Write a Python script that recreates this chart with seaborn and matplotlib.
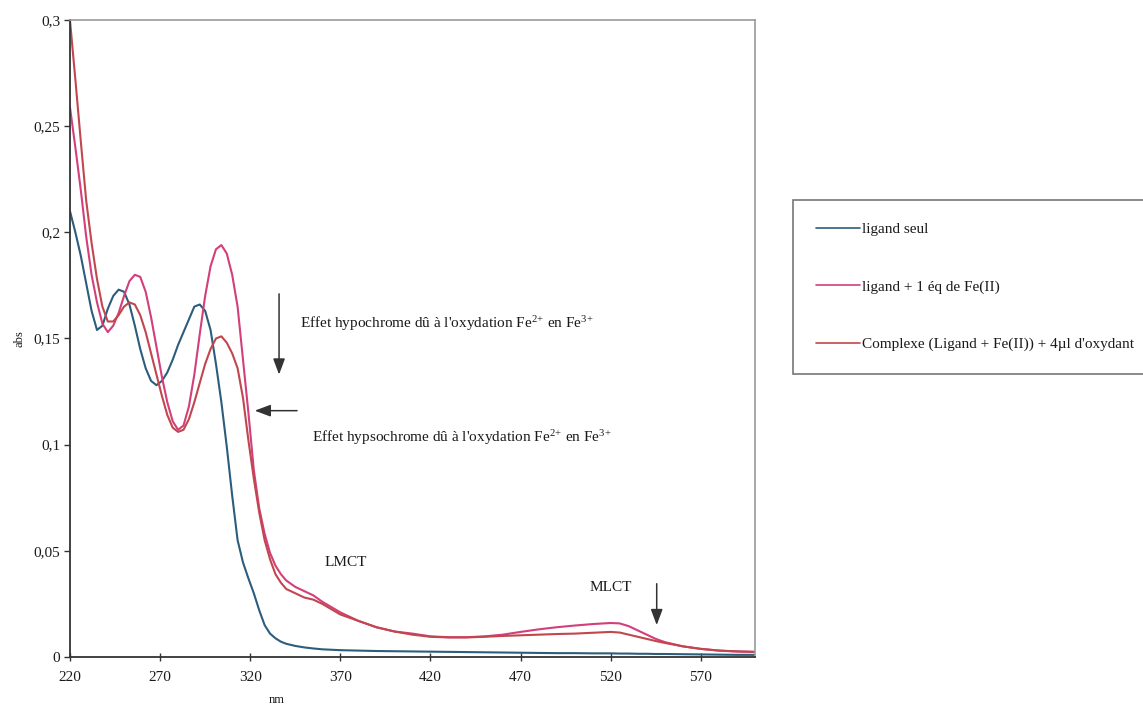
import numpy as np
import pandas as pd
import matplotlib
matplotlib.use("Agg")
import matplotlib.pyplot as plt
import seaborn as sns

# ---------------- data ----------------
wavelength = [220, 223, 226, 229, 232, 235, 238, 241, 244, 247, 250, 253, 256, 259,
              262, 265, 268, 271, 274, 277, 280, 283, 286, 289, 292, 295, 298, 301,
              304, 307, 310, 313, 316, 319, 322, 325, 328, 331, 334, 337, 340, 345,
              350, 355, 360, 370, 380, 390, 400, 410, 420, 430, 440, 450, 460, 470,
              480, 490, 500, 510, 520, 525, 530, 535, 540, 545, 550, 560, 570, 580,
              590, 600]

ligand_seul = [0.210, 0.200, 0.189, 0.176, 0.163, 0.154, 0.156, 0.164, 0.170, 0.173,
               0.172, 0.166, 0.156, 0.145, 0.136, 0.130, 0.128, 0.130, 0.134, 0.140,
               0.147, 0.153, 0.159, 0.165, 0.166, 0.163, 0.154, 0.138, 0.120, 0.099,
               0.076, 0.055, 0.0445, 0.037, 0.030, 0.022, 0.015, 0.011, 0.0088, 0.0072,
               0.0062, 0.0052, 0.0045, 0.0040, 0.0036, 0.0032, 0.0030, 0.0028, 0.0027,
               0.0026, 0.0025, 0.0024, 0.0023, 0.0022, 0.0021, 0.0020, 0.0019, 0.0018,
               0.0018, 0.0017, 0.0017, 0.0016, 0.0016, 0.0015, 0.0015, 0.0014, 0.0014,
               0.0013, 0.0012, 0.0011, 0.0010, 0.0010]

ligand_fe2 = [0.259, 0.240, 0.220, 0.198, 0.180, 0.167, 0.157, 0.153, 0.156, 0.162,
              0.170, 0.177, 0.180, 0.179, 0.172, 0.160, 0.146, 0.132, 0.120, 0.111,
              0.107, 0.109, 0.118, 0.133, 0.152, 0.170, 0.184, 0.192, 0.194, 0.190,
              0.180, 0.165, 0.140, 0.115, 0.088, 0.070, 0.058, 0.049, 0.043, 0.039,
              0.036, 0.033, 0.031, 0.029, 0.026, 0.021, 0.017, 0.014, 0.012, 0.011,
              0.0097, 0.0093, 0.0093, 0.0097, 0.0105, 0.0118, 0.0130, 0.0140, 0.0148,
              0.0155, 0.0160, 0.0158, 0.0145, 0.0125, 0.0105, 0.0085, 0.0070, 0.0050,
              0.0038, 0.0030, 0.0026, 0.0024]

complexe_ox = [0.300, 0.272, 0.243, 0.215, 0.195, 0.178, 0.165, 0.158, 0.158, 0.161,
               0.165, 0.167, 0.166, 0.161, 0.153, 0.143, 0.133, 0.123, 0.114, 0.108,
               0.106, 0.107, 0.112, 0.120, 0.129, 0.138, 0.145, 0.150, 0.151, 0.148,
               0.143, 0.136, 0.122, 0.102, 0.084, 0.068, 0.055, 0.046, 0.039, 0.035,
               0.032, 0.030, 0.028, 0.027, 0.025, 0.020, 0.017, 0.014, 0.012, 0.0105,
               0.0095, 0.0092, 0.0092, 0.0095, 0.0099, 0.0102, 0.0105, 0.0108, 0.0110,
               0.0114, 0.0118, 0.0115, 0.0105, 0.0095, 0.0085, 0.0075, 0.0066, 0.0050,
               0.0038, 0.0030, 0.0026, 0.0024]

series_names = ["ligand seul",
                "ligand + 1 éq de Fe(II)",
                "Complexe (Ligand + Fe(II)) + 4µl d'oxydant"]
series_colors = ["#2c5d7c", "#d23f7a", "#c0474d"]

x_ticks = [220, 270, 320, 370, 420, 470, 520, 570]
y_ticks = [0, 0.05, 0.1, 0.15, 0.2, 0.25, 0.3]
y_tick_labels = ["0", "0,05", "0,1", "0,15", "0,2", "0,25", "0,3"]

# ---------------- build table ----------------
frames = []
for name, vals in zip(series_names, [ligand_seul, ligand_fe2, complexe_ox]):
    frames.append(pd.DataFrame({"nm": wavelength, "abs": vals, "serie": name}))
df = pd.concat(frames, ignore_index=True)

# ---------------- style ----------------
sns.set_theme(style="white")
plt.rcParams["font.family"] = ["Liberation Serif", "DejaVu Serif"]
plt.rcParams["mathtext.fontset"] = "custom"
plt.rcParams["mathtext.rm"] = "Liberation Serif"
plt.rcParams["mathtext.it"] = "Liberation Serif:italic"

fig = plt.figure(figsize=(11.43, 7.11), dpi=100)
ax = fig.add_axes([0.0612, 0.076, 0.5993, 0.8959])

sns.lineplot(data=df, x="nm", y="abs", hue="serie", hue_order=series_names,
             palette=dict(zip(series_names, series_colors)),
             estimator=None, sort=False, linewidth=1.5, ax=ax, legend=True)

ax.set_xlim(220, 600)
ax.set_ylim(0, 0.3)
ax.set_xticks(x_ticks)
ax.set_xticklabels([str(t) for t in x_ticks])
ax.set_yticks(y_ticks)
ax.set_yticklabels(y_tick_labels)
ax.tick_params(axis="x", direction="inout", length=6, width=1, colors="#333333",
               labelsize=11, pad=7, bottom=True)
ax.tick_params(axis="y", direction="out", length=4, width=1, colors="#333333",
               labelsize=11, pad=3, left=True)
for lab in ax.get_xticklabels() + ax.get_yticklabels():
    lab.set_color("#1a1a1a")

for side in ["left", "bottom"]:
    ax.spines[side].set_color("#333333")
    ax.spines[side].set_linewidth(1.3)
for side in ["top", "right"]:
    ax.spines[side].set_color("#9a9a9a")
    ax.spines[side].set_linewidth(1.2)

ax.set_xlabel("nm", fontsize=9, color="#1a1a1a")
ax.xaxis.set_label_coords(0.302, -0.058)
ax.set_ylabel("abs", fontsize=9, color="#1a1a1a", labelpad=6)

# ---------------- annotations ----------------
txt_color = "#1a1a1a"
arrow_kw = dict(arrowstyle="-|>,head_length=0.8,head_width=0.3", color="#333333", lw=1.1,
                shrinkA=0, shrinkB=0)

ax.text(347.5, 0.157, r"Effet hypochrome dû à l'oxydation Fe$^{2\!+\!}$ en Fe$^{3\!+}$",
        fontsize=11, color=txt_color, va="center", ha="left")
ax.annotate("", xy=(336, 0.133), xytext=(336, 0.171), arrowprops=arrow_kw)

ax.text(354.5, 0.1035, r"Effet hypsochrome dû à l'oxydation Fe$^{2\!+\!}$ en Fe$^{3\!+}$",
        fontsize=11, color=txt_color, va="center", ha="left")
ax.annotate("", xy=(322.5, 0.116), xytext=(346, 0.116), arrowprops=arrow_kw)

ax.text(361, 0.0447, "LMCT", fontsize=11, color=txt_color, va="center", ha="left")
ax.text(508, 0.0325, "MLCT", fontsize=11, color=txt_color, va="center", ha="left")
ax.annotate("", xy=(545.5, 0.015), xytext=(545.5, 0.0345), arrowprops=arrow_kw)

# ---------------- legend ----------------
handles, labels = ax.get_legend_handles_labels()
ax.get_legend().remove()
leg = fig.legend(handles, labels, loc="upper left", bbox_to_anchor=(0.694, 0.719),
                 frameon=True, fancybox=False, edgecolor="#555555", fontsize=11,
                 handlelength=2.9, handletextpad=0.1, labelspacing=2.85,
                 borderpad=1.5, borderaxespad=0)
leg.get_frame().set_linewidth(1.2)
for line in leg.get_lines():
    line.set_linewidth(1.2)
for t in leg.get_texts():
    t.set_color(txt_color)

fig.savefig("out.png", dpi=100)
